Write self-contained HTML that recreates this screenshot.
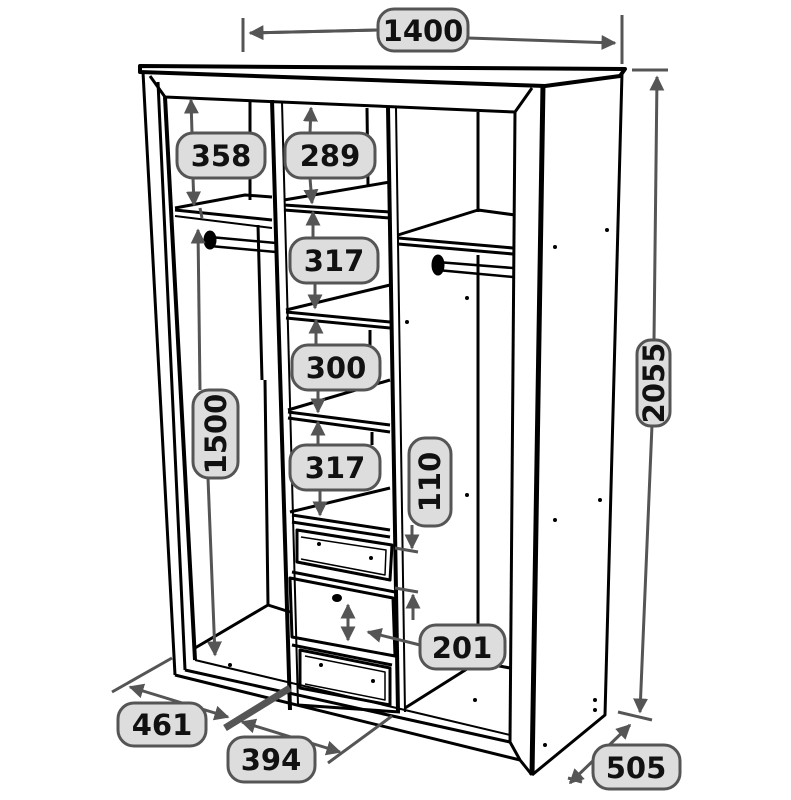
<!DOCTYPE html>
<html><head><meta charset="utf-8"><style>
html,body{margin:0;padding:0;background:#fff;}
svg{display:block}
text{font-family:"DejaVu Sans","Liberation Sans",sans-serif;font-weight:bold;fill:#111;}
</style></head><body>
<svg width="791" height="800" viewBox="0 0 791 800" xmlns="http://www.w3.org/2000/svg">
<defs>
<marker id="a" viewBox="0 0 10 10" refX="9" refY="5" markerWidth="5" markerHeight="5" orient="auto-start-reverse"><path d="M0,0 L10,5 L0,10 z" fill="#555"/></marker>
</defs>
<g fill="none" stroke="#000" stroke-width="3" stroke-linejoin="round">
<!-- top cornice -->
<path d="M140,66 L625,69 L620,76 L545,86 L140,72 Z" stroke-width="4"/>
<path d="M150,76 L165,97 L515,112 L532,88"/>
<!-- left front post -->
<path d="M143,72 L175,675"/>
<path d="M158,82 L185,670"/>
<path d="M165,97 L195,660" stroke-width="4"/>
<!-- right front -->
<path d="M515,112 L510,742"/>
<path d="M543,84 L532,775" stroke-width="5"/>
<path d="M622,73 L605,715 L532,775"/>
<path d="M510,742 L520,760 L532,775"/>
<!-- bottom plinth -->
<path d="M175,675 L520,760"/>
<path d="M185,670 L510,742"/>
<path d="M195,660 L510,735" stroke-width="2"/>
<!-- left column -->
<path d="M250,102 L250,200"/>
<path d="M265,380 L268,605 L195,648"/>
<path d="M268,605 L290,612"/>
<path d="M175,210 L272,220"/>
<path d="M175,216 L272,228" stroke-width="2"/>
<path d="M175,208 L245,195 L272,197"/>
<path d="M210,237 L276,243 M210,246 L276,252" stroke-width="2.5"/>
<ellipse cx="210" cy="240" rx="5" ry="8" fill="#000"/>
<path d="M258,225 L262,380"/>
<!-- middle partitions -->
<path d="M272,100 L290,710" stroke-width="4"/>
<path d="M282,102 L298,705" stroke-width="2"/>
<path d="M388,107 L398,712" stroke-width="4"/>
<path d="M396,108 L405,712" stroke-width="2"/>
<path d="M367,108 L368,185"/>
<!-- middle shelves -->
<path d="M284,200 L390,182"/>
<path d="M284,205 L390,212 M284,210 L390,218"/>
<path d="M286,310 L390,285"/>
<path d="M286,312 L390,322 M286,318 L390,328"/>
<path d="M370,330 L370,345"/>
<path d="M288,410 L390,380"/>
<path d="M288,412 L390,425 M288,418 L390,432"/>
<path d="M372,432 L372,445"/>
<path d="M290,512 L390,488"/>
<path d="M292,515 L390,530 M292,522 L390,537"/>
<!-- drawers -->
<path d="M297,530 L392,545 L390,580 L297,562 Z" stroke-width="3"/>
<path d="M301,537 L386,550 L385,575 L301,559" stroke-width="1.5"/>
<path d="M292,572 L395,592"/>
<path d="M290,578 L393,598 L395,656 L292,637 Z"/>
<path d="M292,645 L392,665"/>
<path d="M300,650 L390,668 L390,705 L300,688 Z"/>
<path d="M305,656 L385,672 L385,700 L305,684" stroke-width="1.5"/>
<path d="M298,705 L400,712"/>
<!-- right column -->
<path d="M478,112 L478,212"/>
<path d="M398,235 L478,210 L515,215"/>
<path d="M398,238 L513,248 M398,244 L513,254"/>
<path d="M437,262 L513,268 M437,270 L513,277" stroke-width="2.5"/>
<ellipse cx="438" cy="265" rx="5" ry="9" fill="#000"/>
<path d="M478,255 L478,662 L405,708"/>
<path d="M478,662 L510,668"/>
</g>
<g fill="#000">
<circle cx="555" cy="247" r="2"/><circle cx="607" cy="230" r="2"/><circle cx="467" cy="298" r="2"/><circle cx="407" cy="322" r="2"/><circle cx="467" cy="495" r="2"/><circle cx="410" cy="500" r="2"/><circle cx="555" cy="520" r="2"/><circle cx="600" cy="500" r="2"/><circle cx="319" cy="544" r="2"/><circle cx="371" cy="558" r="2"/><circle cx="321" cy="665" r="2"/><circle cx="373" cy="681" r="2"/><circle cx="595" cy="700" r="2"/><circle cx="595" cy="710" r="2"/><circle cx="545" cy="745" r="2"/><circle cx="230" cy="665" r="2"/><circle cx="475" cy="700" r="2"/>
<ellipse cx="337" cy="598" rx="5" ry="4"/>
</g>
<!-- dimension lines -->
<g stroke="#555" stroke-width="3" fill="none">
<path d="M243,18 L243,52 M622,15 L622,64"/>
<path d="M250,33 L378,30 M468,38 L615,43" marker-end="url(#a)"/>
<path d="M378,30 L250,33" marker-end="url(#a)"/>
<path d="M632,70 L668,70 M618,712 L652,720"/>
<path d="M654,340 L657,77" marker-end="url(#a)"/>
<path d="M652,425 L640,712" marker-end="url(#a)"/>
<path d="M192,133 L191,100" marker-end="url(#a)"/>
<path d="M193,178 L194,205" marker-end="url(#a)"/>
<path d="M310,133 L311,108" marker-end="url(#a)"/>
<path d="M310,178 L312,203" marker-end="url(#a)"/>
<path d="M313,238 L313,212" marker-end="url(#a)"/>
<path d="M315,283 L315,308" marker-end="url(#a)"/>
<path d="M316,345 L316,320" marker-end="url(#a)"/>
<path d="M318,390 L318,412" marker-end="url(#a)"/>
<path d="M318,445 L318,422" marker-end="url(#a)"/>
<path d="M320,490 L320,515" marker-end="url(#a)"/>
<path d="M200,208 L202,218"/>
<path d="M200,390 L198,230" marker-end="url(#a)"/>
<path d="M208,478 L215,655" marker-end="url(#a)"/>
<path d="M395,548 L418,552 M395,588 L418,592"/>
<path d="M412,525 L412,548" marker-end="url(#a)"/>
<path d="M413,620 L413,595" marker-end="url(#a)"/>
<path d="M348,605 L348,640" marker-start="url(#a)" marker-end="url(#a)"/>
<path d="M420,645 L368,632" marker-end="url(#a)"/>
<path d="M112,692 L172,658"/>
<path d="M130,687 L228,717" marker-start="url(#a)" marker-end="url(#a)"/>
<path d="M225,728 L290,688" stroke-width="7"/>
<path d="M242,722 L340,752" marker-start="url(#a)" marker-end="url(#a)"/>
<path d="M328,763 L392,716"/>
<path d="M568,778 L582,782"/>
<path d="M570,783 L630,725" marker-start="url(#a)" marker-end="url(#a)"/>
</g>
<!-- labels -->
<g fill="#ddd" stroke="#555" stroke-width="3">
<rect x="378" y="9" width="90" height="42" rx="16"/>
<rect x="637" y="340" width="33" height="86" rx="14"/>
<rect x="177" y="133" width="88" height="45" rx="16"/>
<rect x="285" y="133" width="90" height="45" rx="16"/>
<rect x="290" y="238" width="88" height="45" rx="16"/>
<rect x="292" y="345" width="88" height="45" rx="16"/>
<rect x="290" y="445" width="90" height="45" rx="16"/>
<rect x="409" y="438" width="42" height="88" rx="16"/>
<rect x="193" y="390" width="45" height="88" rx="16"/>
<rect x="420" y="625" width="85" height="44" rx="16"/>
<rect x="118" y="703" width="88" height="43" rx="16"/>
<rect x="228" y="737" width="87" height="45" rx="16"/>
<rect x="593" y="745" width="87" height="44" rx="16"/>
</g>
<g font-size="29" text-anchor="middle">
<text x="423" y="41">1400</text>
<text x="221" y="166">358</text>
<text x="330" y="166">289</text>
<text x="334" y="271">317</text>
<text x="336" y="378">300</text>
<text x="335" y="478">317</text>
<text x="462" y="658">201</text>
<text x="162" y="735">461</text>
<text x="271" y="770">394</text>
<text x="636" y="778">505</text>
<text transform="translate(664,383) rotate(-90)">2055</text>
<text transform="translate(440,482) rotate(-90)">110</text>
<text transform="translate(226,434) rotate(-90)">1500</text>
</g>
</svg>
</body></html>
